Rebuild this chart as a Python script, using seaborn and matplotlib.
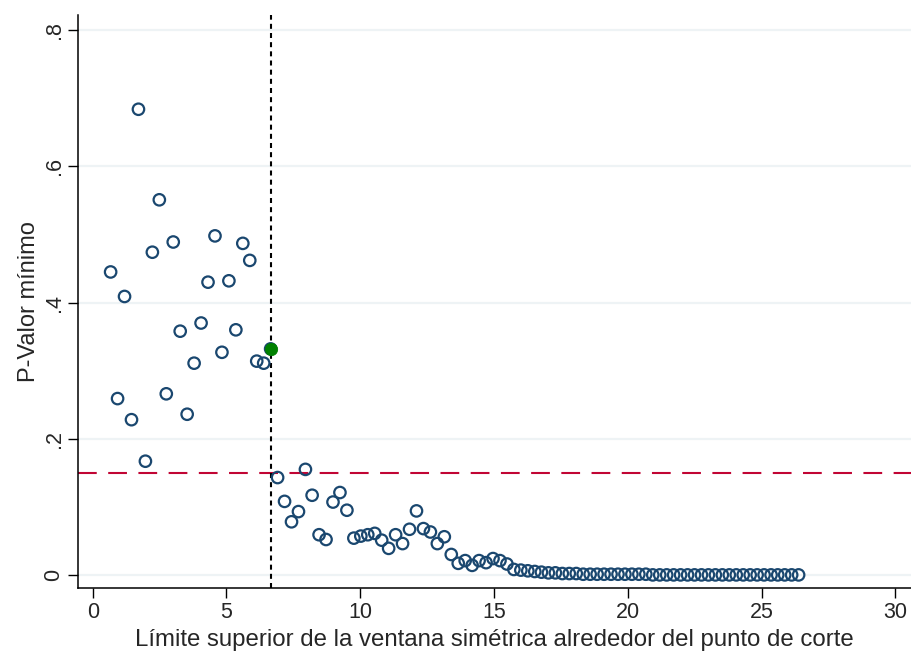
import matplotlib
matplotlib.use("Agg")
import matplotlib.pyplot as plt
import seaborn as sns

# wartosci
x_vals = [0.67, 0.93, 1.19, 1.45, 1.71, 1.97, 2.23, 2.49, 2.75, 3.01,
          3.27, 3.53, 3.79, 4.05, 4.31, 4.57, 4.83, 5.09, 5.35, 5.61,
          5.87, 6.13, 6.39, 6.65, 6.91, 7.17, 7.43, 7.69, 7.95, 8.20,
          8.46, 8.72, 8.98, 9.24, 9.50, 9.76, 10.02, 10.28, 10.54, 10.80,
          11.06, 11.32, 11.58, 11.84, 12.10, 12.36, 12.62, 12.88, 13.14, 13.40,
          13.66, 13.92, 14.18, 14.44, 14.70, 14.96, 15.22, 15.48, 15.74, 16.00,
          16.26, 16.52, 16.77, 17.03, 17.29, 17.55, 17.81, 18.07, 18.33, 18.59,
          18.85, 19.11, 19.37, 19.63, 19.89, 20.15, 20.41, 20.67, 20.93, 21.19,
          21.45, 21.71, 21.97, 22.23, 22.49, 22.75, 23.01, 23.27, 23.53, 23.79,
          24.05, 24.31, 24.57, 24.83, 25.09, 25.35, 25.60, 25.86, 26.12, 26.38]
p_vals = [0.445, 0.259, 0.409, 0.228, 0.684, 0.167, 0.474, 0.551, 0.266, 0.489,
          0.358, 0.236, 0.311, 0.370, 0.430, 0.498, 0.327, 0.432, 0.360, 0.487,
          0.462, 0.314, 0.311, 0.332, 0.143, 0.108, 0.078, 0.093, 0.155, 0.117,
          0.059, 0.052, 0.107, 0.121, 0.095, 0.054, 0.057, 0.059, 0.061, 0.051,
          0.039, 0.059, 0.046, 0.067, 0.094, 0.068, 0.063, 0.046, 0.056, 0.030,
          0.017, 0.021, 0.014, 0.021, 0.018, 0.024, 0.021, 0.016, 0.008, 0.007,
          0.006, 0.005, 0.004, 0.003, 0.003, 0.002, 0.002, 0.002, 0.001, 0.001,
          0.001, 0.001, 0.001, 0.001, 0.001, 0.001, 0.001, 0.001, 0.000, 0.000,
          0.000, 0.000, 0.000, 0.000, 0.000, 0.000, 0.000, 0.000, 0.000, 0.000,
          0.000, 0.000, 0.000, 0.000, 0.000, 0.000, 0.000, 0.000, 0.000, 0.000]

# punkt wybrany (zielony) i linie referencyjne
opt_x = [6.65]
opt_p = [0.332]
umbral = 0.15

x_ticks = [0, 5, 10, 15, 20, 25, 30]
y_ticks = [0, 0.2, 0.4, 0.6, 0.8]
y_labels = ["0", ".2", ".4", ".6", ".8"]

sns.set_style("white")
plt.rcParams['font.family'] = ['Liberation Sans', 'DejaVu Sans']

fig = plt.figure(figsize=(9.11, 6.51), dpi=100)
ax = fig.add_axes([0.0853, 0.0963, 0.9147, 0.8807])

navy = "#1a476f"
for yt in y_ticks:
    ax.axhline(yt, color="#eef3f5", linewidth=1.6, zorder=0)

sns.scatterplot(x=x_vals, y=p_vals, s=68, marker="o", facecolors="none",
                edgecolors=navy, linewidth=1.6, ax=ax, zorder=3)
sns.scatterplot(x=opt_x, y=opt_p, s=80, marker="o", color="#008000",
                edgecolor="#008000", linewidth=0.5, ax=ax, zorder=4)

ax.axhline(umbral, color="#c10534", linewidth=1.5, linestyle=(0, (9, 5.5)), zorder=2)
ax.axvline(opt_x[0], color="black", linewidth=1.5, linestyle=(0, (2.4, 2.0)), zorder=2)

ax.set_xlim(-0.56, 30.58)
ax.set_ylim(-0.0197, 0.8225)
ax.set_xticks(x_ticks)
ax.set_yticks(y_ticks)
ax.set_yticklabels(y_labels, rotation=90, va="center")
ax.tick_params(axis="both", direction="out", length=7, width=1, labelsize=15.5,
               color="black", left=True, bottom=True, pad=2.5)

for side in ["top", "right"]:
    ax.spines[side].set_visible(False)
for side in ["left", "bottom"]:
    ax.spines[side].set_color("black")
    ax.spines[side].set_linewidth(1.1)

ax.set_xlabel("Límite superior de la ventana simétrica alrededor del punto de corte",
              fontsize=17.25, va="baseline")
ax.xaxis.set_label_coords(0.5, -0.1006)
ax.set_ylabel("P-Valor mínimo", fontsize=17)
ax.yaxis.set_label_coords(-0.0452, 0.5)

fig.savefig("out.png", dpi=100)
